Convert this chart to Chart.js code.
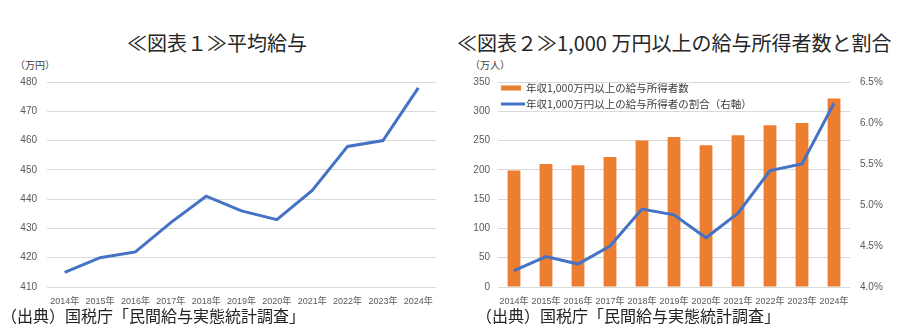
<!DOCTYPE html>
<html lang="ja">
<head>
<meta charset="utf-8">
<script src="https://cdn.jsdelivr.net/npm/chart.js@4.4.1/dist/chart.umd.min.js"></script>
<style>
  body { margin: 0; width: 903px; height: 336px; background: #fff; position: relative; overflow: hidden;
         font-family: "Noto Sans CJK JP", sans-serif; }
  .title { position: absolute; top: 30px; font-size: 20px; color: #262626; white-space: nowrap; line-height: 26px; }
  .unit { position: absolute; top: 58px; font-size: 10px; color: #404040; white-space: nowrap; line-height: 14px; }
  .source { position: absolute; top: 304px; font-size: 16px; color: #222; white-space: nowrap; line-height: 22px; }
  canvas { position: absolute; top: 66px; }
</style>
</head>
<body>
<div class="title" style="left:127px;">≪図表１≫平均給与</div>
<div class="title" style="left:457px;">≪図表２≫1,000 万円以上の給与所得者数と割合</div>
<div class="unit" style="left:15px;">（万円）</div>
<div class="unit" style="left:470px;">（万人）</div>
<canvas id="salary-chart" width="450" height="246" style="left:0;"></canvas>
<canvas id="earners-chart" width="453" height="246" style="left:450px;"></canvas>
<div class="source" style="left:1px;">（出典）国税庁「民間給与実態統計調査」</div>
<div class="source" style="left:476px;">（出典）国税庁「民間給与実態統計調査」</div>
<script>
const years = ['2014年', '2015年', '2016年', '2017年', '2018年', '2019年', '2020年', '2021年', '2022年', '2023年', '2024年'];
const avgSalary = [415, 420, 422, 432, 441, 436, 433, 443, 458, 460, 478];
const highEarners = [199, 210, 208, 222, 250, 256, 242, 259, 276, 280, 322];
const highEarnerShare = [4.2, 4.37, 4.28, 4.5, 4.95, 4.88, 4.6, 4.9, 5.42, 5.5, 6.24];
const salaryLabel = '平均給与';
const earnersLabel = '年収1,000万円以上の給与所得者数';
const shareLabel = '年収1,000万円以上の給与所得者の割合（右軸）';

const tickFont = { family: '"Liberation Sans", "Noto Sans CJK JP", sans-serif', size: 10 };
const xTickFont = { family: '"Liberation Sans", "Noto Sans CJK JP", sans-serif', size: 9 };
const tickColor = '#595959';
const gridColor = '#d9d9d9';
const blue = '#4472C4';
const orange = '#ED7D31';

Chart.defaults.animation = false;
Chart.defaults.plugins.legend.display = false;
Chart.defaults.plugins.tooltip.enabled = false;

// legend drawn inside the plot, top left
const insideLegend = {
    id: 'insideLegend',
    afterDraw(chart) {
        const { ctx, chartArea } = chart;
        const x = chartArea.left + 3;
        ctx.save();
        ctx.font = '10.5px "Noto Sans CJK JP", sans-serif';
        ctx.textBaseline = 'middle';
        chart.data.datasets.forEach((ds, i) => {
            const y = chartArea.top + 6 + i * 16;
            if (ds.type === 'bar') {
                ctx.fillStyle = ds.backgroundColor;
                ctx.fillRect(x, y - 2.5, 20, 5);
            } else {
                ctx.strokeStyle = ds.borderColor;
                ctx.lineWidth = 3;
                ctx.beginPath();
                ctx.moveTo(x, y);
                ctx.lineTo(x + 24, y);
                ctx.stroke();
            }
            ctx.fillStyle = '#404040';
            ctx.fillText(ds.label, x + 25, y);
        });
        ctx.restore();
    }
};

new Chart(document.querySelector('#salary-chart').getContext('2d'), {
    type: 'line',
    data: {
        labels: years,
        datasets: [{
            label: salaryLabel,
            data: avgSalary,
            borderColor: blue,
            borderWidth: 3,
            pointRadius: 0,
            tension: 0
        }]
    },
    options: {
        responsive: false,
        layout: { padding: { left: 0, right: 14, top: 15, bottom: 0 } },
        scales: {
            x: {
                offset: true,
                grid: { display: false },
                border: { display: false },
                ticks: { font: xTickFont, color: tickColor, padding: 1, autoSkip: false, maxRotation: 0 },
                afterFit: s => { s.height = 25; }
            },
            y: {
                min: 410, max: 480,
                grid: { color: gridColor, drawTicks: false },
                border: { display: false },
                ticks: { stepSize: 10, font: tickFont, color: tickColor, padding: 10 },
                afterFit: s => { s.width = 47; }
            }
        }
    }
});

new Chart(document.querySelector('#earners-chart').getContext('2d'), {
    data: {
        labels: years,
        datasets: [{
            type: 'bar',
            label: earnersLabel,
            data: highEarners,
            backgroundColor: orange,
            barPercentage: 0.4,
            categoryPercentage: 1,
            yAxisID: 'y',
            order: 1
        }, {
            type: 'line',
            label: shareLabel,
            data: highEarnerShare,
            borderColor: blue,
            borderWidth: 3,
            pointRadius: 0,
            tension: 0,
            yAxisID: 'y1',
            order: 0
        }]
    },
    options: {
        responsive: false,
        layout: { padding: { left: 0, right: 0, top: 15, bottom: 0 } },
        scales: {
            x: {
                grid: { display: false },
                border: { display: false },
                ticks: { font: xTickFont, color: tickColor, padding: 1, autoSkip: false, maxRotation: 0 },
                afterFit: s => { s.height = 25; }
            },
            y: {
                position: 'left',
                min: 0, max: 350,
                grid: { color: gridColor, drawTicks: false },
                border: { display: false },
                ticks: { stepSize: 50, font: tickFont, color: tickColor, padding: 8 },
                afterFit: s => { s.width = 48; }
            },
            y1: {
                position: 'right',
                min: 4.0, max: 6.5,
                grid: { display: false, drawTicks: false },
                border: { display: false },
                ticks: { stepSize: 0.5, font: tickFont, color: tickColor, padding: 10,
                         callback: v => v.toFixed(1) + '%' },
                afterFit: s => { s.width = 53; }
            }
        }
    },
    plugins: [insideLegend]
});
</script>
</body>
</html>
